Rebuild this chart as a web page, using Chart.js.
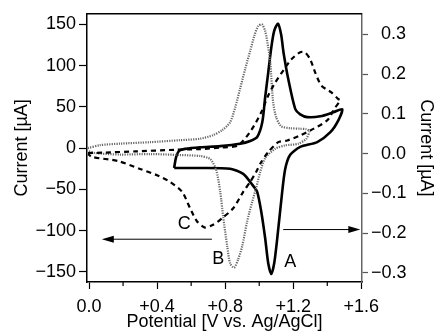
<!DOCTYPE html>
<html>
<head>
<meta charset="utf-8">
<script src="https://cdn.jsdelivr.net/npm/chart.js@4.4.1/dist/chart.umd.min.js"></script>
<style>
  body { margin: 0; background: #fff; }
  #wrap { width: 437px; height: 333px; }
</style>
</head>
<body>
<div id="wrap"><canvas id="cv" width="437" height="333"></canvas></div>
<script>
// Curve A (solid, right axis, µA)
const aPotential = [0.500, 0.512, 0.529, 0.565, 0.653, 0.771, 0.888, 0.947, 0.988, 1.018, 1.035, 1.053, 1.071, 1.088, 1.110, 1.129, 1.143, 1.171, 1.212, 1.241, 1.282, 1.359, 1.435, 1.488,
  1.465, 1.418, 1.341, 1.241, 1.182, 1.153, 1.135, 1.106, 1.088, 1.071, 1.053, 1.035, 1.012, 0.988, 0.959, 0.906, 0.829, 0.653, 0.500];
const aCurrent = [-0.036, -0.008, 0.007, 0.012, 0.016, 0.019, 0.025, 0.032, 0.042, 0.079, 0.142, 0.204, 0.267, 0.309, 0.327, 0.299, 0.254, 0.187, 0.112, 0.099, 0.092, 0.094, 0.104, 0.112,
  0.084, 0.054, 0.029, 0.017, -0.003, -0.038, -0.096, -0.213, -0.276, -0.303, -0.276, -0.213, -0.146, -0.096, -0.078, -0.051, -0.038, -0.036, -0.036];

// Curve B (dotted, left axis)
const bPotential = [-0.006, 0.065, 0.182, 0.359, 0.535, 0.653, 0.729, 0.782, 0.829, 0.859, 0.888, 0.918, 0.947, 0.971, 0.994, 1.016, 1.035, 1.053, 1.065, 1.082, 1.100, 1.129, 1.182, 1.241, 1.276, 1.294,
  1.276, 1.229, 1.153, 1.094, 1.035, 1.006, 0.982, 0.959, 0.929, 0.900, 0.876, 0.853, 0.829, 0.812, 0.788, 0.771, 0.747, 0.712, 0.653, 0.535, 0.359, 0.182, 0.035, -0.006];
const bCurrent = [0, 3.6, 5.4, 7.2, 9.6, 11.4, 15.7, 21.7, 31.3, 49.4, 72.3, 96.4, 118, 136, 148, 150, 142, 122, 104, 55.4, 37.3, 26.5, 24.1, 23.5, 22.9, 20.5,
  11.2, 5.2, 3.3, -0.8, -12, -28.9, -48.2, -65, -89, -119, -135, -145, -140, -119, -83, -53, -26.5, -13.3, -9.6, -8.4, -7.2, -7.8, -6, -3.6];

// Curve C (dashed, left axis)
const cPotential = [-0.006, 0.094, 0.271, 0.506, 0.653, 0.771, 0.876, 0.953, 1.012, 1.053, 1.094, 1.153, 1.188, 1.241, 1.271, 1.300, 1.329, 1.365, 1.424, 1.465, 1.476,
  1.447, 1.400, 1.318, 1.241, 1.165, 1.112, 1.053, 1.012, 0.982, 0.947, 0.906, 0.847, 0.782, 0.729, 0.682, 0.635, 0.594, 0.547, 0.476, 0.400, 0.300, 0.171, 0.018, -0.006];
const cCurrent = [-6, -5.4, -4, -2, -1.2, 0.6, 3.3, 21.7, 43.4, 63.9, 79.5, 97.6, 107.6, 116.3, 115.7, 107.6, 91.6, 75.9, 67.5, 59.4, 57.8,
  49.4, 33.7, 23.3, 15.3, 9.3, 7.2, -4.8, -16.9, -28.9, -41, -53, -73, -85, -93, -96.4, -89, -73, -53, -41, -32.9, -25.3, -15.7, -10.8, -7.2];

const minorTicks = [0.2, 0.6, 1.0, 1.4];

const FONT = '"Liberation Sans", Arial, Helvetica, sans-serif';
const MINUS = '\u2212';

function toPoints(xs, ys) {
    return xs.map((v, i) => ({ x: v, y: ys[i] }));
}

function drawArrow(ctx, x0, y0, x1, y1) {
    const dir = Math.sign(x1 - x0);
    ctx.beginPath();
    ctx.moveTo(x0, y0);
    ctx.lineTo(x1 - dir * 8, y1);
    ctx.stroke();
    ctx.beginPath();
    ctx.moveTo(x1, y1);
    ctx.lineTo(x1 - dir * 12, y1 - 3.5);
    ctx.lineTo(x1 - dir * 12, y1 + 3.5);
    ctx.closePath();
    ctx.fill();
}

const extras = {
    id: 'extras',
    afterDraw(chart) {
        const { ctx, chartArea: ca, scales: { x, y, y1 } } = chart;
        ctx.save();
        ctx.strokeStyle = '#000';
        ctx.fillStyle = '#000';

        // top frame line
        ctx.lineWidth = 1.5;
        ctx.beginPath();
        ctx.moveTo(ca.left, ca.top);
        ctx.lineTo(ca.right, ca.top);
        ctx.stroke();

        // minor ticks on the potential axis
        ctx.lineWidth = 1.2;
        ctx.beginPath();
        minorTicks.forEach(v => {
            const px = x.getPixelForValue(v);
            ctx.moveTo(px, ca.bottom);
            ctx.lineTo(px, ca.bottom + 4);
        });
        ctx.stroke();

        // arrows pointing to the axis each curve uses
        ctx.lineWidth = 1;
        drawArrow(ctx, x.getPixelForValue(0.722), y.getPixelForValue(-110.5), x.getPixelForValue(0.075), y.getPixelForValue(-110.5));
        drawArrow(ctx, x.getPixelForValue(1.141), y1.getPixelForValue(-0.191), x.getPixelForValue(1.594), y1.getPixelForValue(-0.191));

        // curve letters
        ctx.font = '18px ' + FONT;
        ctx.textAlign = 'center';
        ctx.textBaseline = 'middle';
        ctx.fillText('A', x.getPixelForValue(1.182), y1.getPixelForValue(-0.272));
        ctx.fillText('B', x.getPixelForValue(0.759), y.getPixelForValue(-135));
        ctx.fillText('C', x.getPixelForValue(0.559), y.getPixelForValue(-91.6));
        ctx.restore();
    }
};

new Chart(document.getElementById('cv'), {
    type: 'scatter',
    data: {
        datasets: [
            { label: 'C', data: toPoints(cPotential, cCurrent), yAxisID: 'y', showLine: true, borderColor: '#000', borderWidth: 2.2, borderDash: [5, 4], tension: 0.25, pointRadius: 0 },
            { label: 'B', data: toPoints(bPotential, bCurrent), yAxisID: 'y', showLine: true, borderColor: '#666', borderWidth: 2.2, borderDash: [1.2, 1.2], tension: 0.25, pointRadius: 0 },
            { label: 'A', data: toPoints(aPotential, aCurrent), yAxisID: 'y1', showLine: true, borderColor: '#000', borderWidth: 2.6, tension: 0.25, pointRadius: 0 }
        ]
    },
    options: {
        responsive: false,
        animation: false,
        layout: { padding: { top: 12, left: 0, right: 0, bottom: 0 } },
        plugins: { legend: { display: false }, tooltip: { enabled: false } },
        scales: {
            x: {
                type: 'linear', min: -0.012, max: 1.604,
                afterFit: s => { s.height = 51; },
                border: { color: '#000', width: 1.5 },
                grid: { drawOnChartArea: false, tickLength: 7, tickColor: '#000', tickWidth: 1.2 },
                ticks: {
                    stepSize: 0.4, includeBounds: false, padding: 7, color: '#000',
                    font: { family: FONT, size: 18 },
                    callback: v => Math.abs(v) < 1e-9 ? '0.0' : '+' + v.toFixed(1)
                },
                title: { display: true, text: 'Potential [V vs. Ag/AgCl]', color: '#000', font: { family: FONT, size: 18 }, padding: { top: 0, bottom: 0 } }
            },
            y: {
                type: 'linear', position: 'left', min: -162.4, max: 162.9,
                afterFit: s => { s.width = 87; },
                border: { color: '#000', width: 1.5 },
                grid: { drawOnChartArea: false, tickLength: 8, tickColor: '#000', tickWidth: 1.2 },
                ticks: {
                    stepSize: 50, includeBounds: false, padding: 3, color: '#000',
                    font: { family: FONT, size: 18 },
                    callback: v => v < 0 ? MINUS + Math.abs(v) : String(v)
                },
                title: { display: true, text: 'Current [µA]', color: '#000', font: { family: FONT, size: 18 }, padding: { top: 11, bottom: 0 } }
            },
            y1: {
                type: 'linear', position: 'right', min: -0.323, max: 0.352,
                afterFit: s => { s.width = 75; },
                border: { color: '#666', width: 1.5 },
                grid: { drawOnChartArea: false, tickLength: 6, tickColor: '#555', tickWidth: 1.2 },
                ticks: {
                    stepSize: 0.1, includeBounds: false, padding: 3, crossAlign: 'near', color: '#000',
                    font: { family: FONT, size: 18 },
                    // figure space keeps positive labels lined up with the negative ones
                    callback: v => (v < -1e-9 ? MINUS : '\u2007') + Math.abs(v).toFixed(1)
                },
                title: { display: true, text: 'Current [µA]', color: '#000', font: { family: FONT, size: 18 }, padding: { top: 0, bottom: 0 } }
            }
        }
    },
    plugins: [extras]
});
</script>
</body>
</html>
